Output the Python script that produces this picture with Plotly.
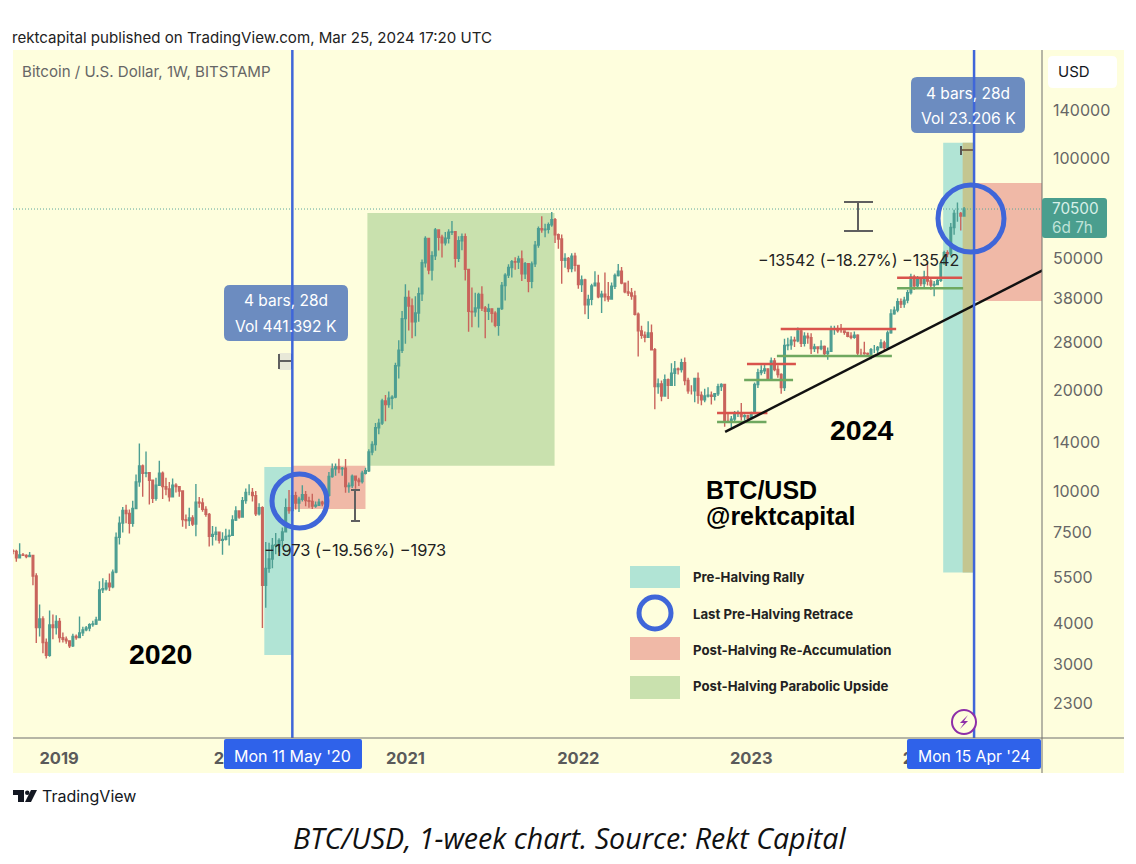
import math
import pandas as pd
import plotly.graph_objects as go

# weekly candles, Bitstamp BTC/USD, first bar Mon 1 Oct 2018
first_open = 6600
closes = [
    6580, 6290, 6420, 6400, 6350, 6400, 5550, 3880, 4120, 3500, 3200, 3950, 3880, 4050,
    # 2019
    3620, 3580, 3540, 3420, 3650, 3620, 3740, 3820, 3870, 3960, 3980, 4090,
    5040, 5080, 5280, 5150, 5700, 7250, 8000, 8730, 8550, 7990, 8850, 10650, 11900,
    11300, 11350, 10770, 9500, 10400, 11300, 10300, 10140, 9600, 10400, 10300, 10000, 8200, 8150,
    8300, 7950, 9250, 9200, 8800, 8500, 7300, 7400, 7510, 7100, 7150, 7300, 7350,
    # 2020
    8180, 8700, 8350, 9350, 9900, 9900, 9680, 8530, 8900, 5200, 5850, 6240, 6850,
    6890, 7100, 7530, 8900, 8730, 9680, 9200, 9440, 9750, 9350, 9300, 9000, 9060,
    9250, 9150, 9700, 11050, 11650, 11800, 11650, 11700, 10300, 10380, 11080, 10780, 10680,
    11300, 11500, 13100, 13800, 15500, 16000, 18650, 18200, 19000, 19150, 23800, 26500, 33000,
    # 2021
    38200, 36000, 32300, 34300, 39200, 48600, 57500, 46200, 51000, 61000, 58000, 55800, 57600,
    60000, 60200, 50100, 56600, 58200, 46400, 34700, 34600, 35500, 39000, 35500, 34700, 35300,
    34250, 31500, 35400, 41500, 44600, 47000, 48900, 48800, 49900, 45000, 48300, 42700, 48200,
    54900, 61500, 61000, 61300, 63200, 65500, 59000, 57300, 49400, 50100, 46700, 50800, 47700,
    # 2022
    41800, 43100, 36300, 37700, 41400, 42200, 38400, 39100, 38400, 37800, 41300, 44500, 45800,
    42200, 39700, 39400, 38600, 34000, 30300, 29400, 29000, 29900, 26600, 20600, 21000, 19300,
    21600, 20800, 22600, 23300, 23200, 24300, 21500, 20000, 20000, 21800, 19400, 18800, 19300,
    19400, 19250, 19600, 20600, 20900, 16300, 16300, 16450, 17100, 17100, 16750, 16850, 16550,
    # 2023
    17100, 20900, 22700, 23000, 23300, 21800, 24600, 23200, 22400, 20450, 27400, 27500, 28400,
    28300, 30300, 27800, 29200, 28900, 26800, 27100, 26800, 27200, 25900, 26300, 30500, 30500,
    30300, 30300, 30000, 29200, 29000, 29400, 26000, 26000, 25900, 25800, 26600, 26600, 27000,
    27900, 27000, 29900, 34100, 35000, 37100, 36500, 37500, 39500, 44000, 41400, 43700, 42100,
    # 2024
    44000, 42800, 41600, 41800, 43000, 48300, 52100, 51700, 62000, 68400, 68400, 67200, 70500,
]
highs = [
    6680, 6650, 6960, 6500, 6450, 6550, 6420, 5650, 4550, 4200, 3600, 4370, 4250, 4230,
    4150, 3750, 3650, 3540, 3720, 3700, 4190, 3900, 3920, 4000, 4070, 4180,
    5350, 5460, 5400, 5640, 5800, 7500, 8380, 8950, 9090, 8800, 9350, 11200, 13880,
    12000, 13150, 11100, 10650, 10950, 12320, 11450, 10950, 10630, 10900, 10550, 10350, 10050, 8500,
    8900, 8450, 10500, 9590, 9500, 9000, 8580, 7850, 7800, 7550, 7510, 7700, 7650,
    8450, 9000, 8750, 9590, 10170, 10480, 10200, 9990, 9190, 9000, 7020, 6980, 7220,
    7470, 7200, 7760, 9490, 10070, 9970, 9950, 9600, 10400, 10000, 9600, 9800, 9300,
    9480, 9350, 9800, 11400, 12100, 12100, 12500, 11800, 12480, 10600, 11200, 11000, 10950,
    11500, 11750, 13350, 14100, 16000, 16500, 18950, 19450, 19900, 19400, 24300, 28400, 34800,
    41900, 40100, 37900, 38500, 40900, 49700, 58400, 57500, 52600, 61800, 61000, 59000, 60100,
    61300, 64900, 60500, 58400, 59500, 59500, 46600, 40900, 39500, 39500, 41300, 36000, 36600,
    35100, 34700, 35500, 42500, 45200, 48100, 49500, 50500, 51000, 52900, 48800, 48400, 49000,
    56500, 62500, 67000, 63700, 64200, 69000, 66300, 59500, 59100, 51900, 50600, 51900, 52100,
    47500, 44500, 43500, 38900, 42000, 45800, 44700, 40000, 45400, 42500, 42400, 45100, 48200,
    47200, 41600, 42900, 40800, 40000, 34400, 31400, 30200, 32400, 31700, 26900, 21800, 21500,
    22400, 21800, 24200, 24600, 23500, 25000, 25200, 21900, 20800, 21900, 22700, 19900, 20300,
    20500, 19900, 19700, 21000, 21100, 21000, 17200, 16800, 17400, 17450, 18400, 17000, 16950,
    17300, 21200, 23300, 23900, 24200, 23400, 25200, 25100, 23900, 22600, 28700, 28900, 29200,
    29100, 31000, 30500, 30000, 29900, 29800, 27700, 27200, 28400, 27400, 27000, 31400, 31400,
    31500, 31800, 30400, 30000, 30000, 30200, 29600, 26800, 28100, 26100, 26900, 27500, 27300,
    28600, 28300, 30400, 35200, 35900, 38000, 37900, 38400, 40200, 45000, 44700, 44300, 43800,
    46000, 49000, 43600, 42800, 43800, 48600, 52800, 53000, 64000, 70200, 73800, 69000, 71500,
]
lows = [
    6450, 6120, 6350, 6370, 6270, 6320, 5200, 3490, 3650, 3250, 3130, 3170, 3580, 3700,
    3500, 3500, 3470, 3370, 3390, 3570, 3650, 3660, 3780, 3780, 3900, 3950,
    4100, 4930, 5020, 5000, 5100, 5650, 6900, 7500, 8000, 7450, 7800, 8900, 10300,
    9600, 11000, 9100, 9200, 9350, 10900, 9450, 9700, 9300, 9560, 9900, 9600, 7800, 7700,
    7850, 7850, 7300, 8900, 8650, 8360, 6800, 6850, 7100, 6950, 6430, 7100, 6850,
    7350, 8120, 8250, 8550, 9150, 9700, 9300, 8400, 8430, 3870, 4450, 5670, 5850,
    6450, 6540, 6770, 7630, 8540, 8100, 8800, 8640, 9300, 9000, 8900, 8830, 8900,
    9050, 9000, 9050, 9600, 10950, 11100, 11300, 11100, 9880, 9880, 10200, 10150, 10350,
    10530, 11200, 11400, 12800, 13200, 14800, 15800, 16200, 17800, 17600, 19000, 21800, 26000,
    27700, 30400, 28800, 29200, 32300, 37300, 47000, 44900, 43000, 49500, 52900, 50400, 54800,
    55500, 58900, 47000, 48800, 53000, 43000, 30100, 31100, 33400, 31000, 34800, 28800, 32700,
    32100, 31100, 29300, 35000, 37400, 43700, 43900, 46300, 46500, 42800, 43400, 39600, 40700,
    47200, 53900, 59800, 58000, 59500, 62300, 55700, 53500, 42000, 46900, 45500, 45500, 45700,
    40600, 39700, 34000, 32900, 36200, 41700, 38000, 34300, 37200, 37100, 37600, 40500, 44200,
    41900, 39300, 38600, 37600, 33700, 25400, 28700, 28000, 29300, 26500, 17600, 19600, 18600,
    19300, 18900, 20700, 20700, 22400, 22700, 20800, 19600, 19500, 18500, 18300, 18100, 18500,
    19100, 18200, 18700, 19300, 20000, 15600, 16000, 15500, 16000, 16700, 16300, 16300, 16350,
    16500, 17100, 20400, 22300, 22500, 21400, 21500, 22900, 21900, 19600, 20000, 26500, 26600,
    27100, 28000, 27100, 27200, 27700, 25800, 26200, 25900, 26500, 25400, 24800, 26300, 29500,
    29900, 29900, 29500, 29000, 28600, 28700, 25300, 25400, 25700, 25400, 24900, 26000, 26000,
    27200, 26500, 26800, 29700, 33900, 34500, 35500, 35600, 36700, 39000, 40200, 40500, 41300,
    40750, 41500, 40300, 38500, 41800, 42500, 47900, 50500, 50900, 59000, 64600, 60700, 66800,
]
opens = [first_open] + closes[:-1]
weeks = pd.date_range("2018-10-01", periods=len(closes), freq="W-MON")

price_ticks = [140000, 100000, 50000, 38000, 28000, 20000, 14000, 10000, 7500, 5500, 4000, 3000, 2300]
year_ticks = ["2019-01-06", "2020-01-12", "2021-01-04", "2022-01-03", "2023-01-02", "2024-01-01"]
year_labels = ["2019", "2020", "2021", "2022", "2023", "2024"]

halvings = ["2020-05-11", "2024-04-15"]
last_price = 70500

# shaded zones: start, end, low, high
rally_2020 = ["2020-03-13", "2020-05-11", 3210, 11800]
reacc_2020 = ["2020-05-11", "2020-10-12", 8830, 11900]
parabolic_2021 = ["2020-10-16", "2021-11-14", 11900, 68600]
rally_2024 = ["2024-02-10", "2024-04-15", 5680, 111500]
overlap_2024 = ["2024-03-22", "2024-04-15", 5680, 111500]
reacc_2024 = ["2024-04-15", "2024-09-06", 37300, 84400]

# drawn levels: start, end, price
red_levels = [["2022-10-22", "2023-02-05", 17170], ["2022-12-24", "2023-04-06", 24100],
              ["2023-03-05", "2023-11-03", 30720], ["2023-11-05", "2024-03-21", 43780]]
green_levels = [["2022-10-22", "2023-02-03", 16120], ["2022-12-18", "2023-03-31", 21580],
                ["2023-02-25", "2023-10-25", 25470], ["2023-11-05", "2024-03-23", 40700]]
trend_dates = ["2022-11-08", "2024-09-06"]
trend_prices = [15050, 46100]

BG = "#fefedd"
TEAL = "#b1e4d5"
RED = "#f0b9a7"
GREEN = "#c9e1ae"
BLUE = "#3f66d9"
GREY = "#5f5f5f"

# the page has an 8px body margin, so the figure is 16px smaller than the window
W, H = 1120, 848
L, R, T, B = 13, 1042, 50, 738


def px(x):
    return (x - L) / (R - L)


def py(y):
    return (B - y) / (B - T)


def zone(z, color):
    return dict(type="rect", layer="below", x0=z[0], x1=z[1], y0=z[2], y1=z[3],
                fillcolor=color, line_width=0)


def box(x0, y0, x1, y1, color, layer="above", line=0, line_color=None):
    return dict(type="rect", layer=layer, xref="paper", yref="paper", x0=px(x0), x1=px(x1),
                y0=py(y1), y1=py(y0), fillcolor=color, line=dict(width=line, color=line_color))


def seg(x0, y0, x1, y1, color, width=2):
    return dict(type="line", xref="paper", yref="paper", x0=px(x0), x1=px(x1),
                y0=py(y0), y1=py(y1), line=dict(color=color, width=width))


def ring(x0, y0, x1, y1, color=BLUE, width=5, fill="rgba(0,0,0,0)"):
    return dict(type="circle", xref="paper", yref="paper", x0=px(x0), x1=px(x1),
                y0=py(y1), y1=py(y0), fillcolor=fill, line=dict(color=color, width=width))


def poly(points, color):
    d = "M " + " L ".join(f"{px(a):.5f},{py(b):.5f}" for a, b in points) + " Z"
    return dict(type="path", xref="paper", yref="paper", path=d, fillcolor=color, line_width=0)


def rounded(x0, y0, x1, y1, r, color, border=None):
    d = (f"M {px(x0 + r):.5f},{py(y0):.5f} L {px(x1 - r):.5f},{py(y0):.5f} "
         f"Q {px(x1):.5f},{py(y0):.5f} {px(x1):.5f},{py(y0 + r):.5f} "
         f"L {px(x1):.5f},{py(y1 - r):.5f} Q {px(x1):.5f},{py(y1):.5f} {px(x1 - r):.5f},{py(y1):.5f} "
         f"L {px(x0 + r):.5f},{py(y1):.5f} Q {px(x0):.5f},{py(y1):.5f} {px(x0):.5f},{py(y1 - r):.5f} "
         f"L {px(x0):.5f},{py(y0 + r):.5f} Q {px(x0):.5f},{py(y0):.5f} {px(x0 + r):.5f},{py(y0):.5f} Z")
    return dict(type="path", xref="paper", yref="paper", path=d, fillcolor=color,
                line=dict(width=0 if border is None else 1, color=border))


def label(x, y, text, size=14, color="#222222", anchor="left", family="Inter"):
    # annotations sit about 2px right of their anchor when left aligned
    if anchor == "left":
        x -= 2
    return dict(xref="paper", yref="paper", x=px(x), y=py(y), text=text, showarrow=False, borderpad=0,
                xanchor=anchor, yanchor="middle", font=dict(size=size, color=color, family=family))


fig = go.Figure(go.Candlestick(
    x=weeks, open=opens, high=highs, low=lows, close=closes,
    increasing=dict(line=dict(color="#4d9e92", width=1.4), fillcolor="#4d9e92"),
    decreasing=dict(line=dict(color="#c9645c", width=1.4), fillcolor="#c9645c"),
    whiskerwidth=0, hoverinfo="skip"))

shapes = [
    # chart panel behind everything
    box(13, 50, 1124, 773, BG, layer="below"),
    zone(rally_2020, TEAL), zone(reacc_2020, RED), zone(parabolic_2021, GREEN),
    zone(rally_2024, TEAL), zone(overlap_2024, "#c4c690"), zone(reacc_2024, RED),
    dict(type="line", x0=weeks[0], x1="2024-09-06", y0=last_price, y1=last_price,
         line=dict(color="#5aa79b", width=1, dash="1px,2px")),
]
for start, end, price in red_levels:
    shapes.append(dict(type="line", x0=start, x1=end, y0=price, y1=price,
                       line=dict(color="#d9534c", width=2.5)))
for start, end, price in green_levels:
    shapes.append(dict(type="line", x0=start, x1=end, y0=price, y1=price,
                       line=dict(color="#6fa85f", width=2.5)))
shapes.append(dict(type="line", x0=trend_dates[0], x1=trend_dates[1], y0=trend_prices[0], y1=trend_prices[1],
                   line=dict(color="#111111", width=2.5)))

# measuring tool leftovers
shapes += [
    seg(355, 489, 355, 521, GREY), seg(351, 490, 360, 490, GREY), seg(351, 521, 360, 521, GREY),
    seg(858, 202, 858, 231, GREY), seg(844, 202, 873, 202, GREY), seg(844, 231, 873, 231, GREY),
    box(279, 353, 292, 370, "#e8e8d8"),
    seg(279, 361, 292, 361, GREY), seg(279, 354, 279, 369, GREY), seg(292, 354, 292, 369, GREY),
    seg(961, 150, 974, 150, "#7d6a4a"), seg(961, 146, 961, 155, "#555555"),
    rounded(224, 285, 348, 341, 6, "#6c8cc0"),
    rounded(911, 77, 1025, 133, 6, "#6c8cc0"),
]
# halving lines over the tooltips
for day in halvings:
    shapes.append(dict(type="line", x0=day, x1=day, yref="paper", y0=0, y1=1,
                       line=dict(color=BLUE, width=2.5)))
shapes += [
    ring(272, 474, 327, 528), ring(938, 185, 1004, 252),
    # axis panel borders
    seg(13, 738, 1124, 738, "#6f6f6f", 1), seg(1042, 50, 1042, 773, "#6f6f6f", 1),
    # crosshair date boxes
    rounded(224, 739, 362, 769, 2, "#2f62ea"), rounded(907, 739, 1041, 769, 2, "#2f62ea"),
    # last price tag and currency button
    rounded(1042, 198, 1107, 238, 3, "#4a9e8e"),
    rounded(1048, 56, 1117, 88, 5, "#ffffff"),
    # halving icon
    ring(952, 710, 976, 734, "#8e2fa8", 2, "#fefedd"),
    poly([(968, 715), (960, 723), (964, 723), (960, 729), (968, 721), (964, 721)], "#8e2fa8"),
    # legend swatches
    box(630, 566, 680, 588, TEAL), ring(639, 597, 671, 629), box(630, 637, 680, 660, RED),
    box(630, 676, 680, 699, GREEN),
    # TradingView logo
    poly([(13, 790), (24, 790), (24, 802), (18, 802), (18, 795), (13, 795)], "#131722"),
    ring(25, 790.5, 29.5, 795, "#131722", 0, "#131722"),
    poly([(31, 790), (37, 790), (31, 802), (25, 802)], "#131722"),
]

annotations = [
    label(13, 38, "rektcapital published on TradingView.com, Mar 25, 2024 17:20 UTC", 15.1),
    label(23, 72, "Bitcoin / U.S. Dollar, 1W, BITSTAMP", 15.1, "#666666"),
    label(286, 300, "4 bars, 28d", 15.5, "#ffffff", "center"),
    label(286, 326, "Vol 441.392 K", 15.6, "#ffffff", "center"),
    label(968, 93, "4 bars, 28d", 15.5, "#ffffff", "center"),
    label(968, 119, "Vol 23.206 K", 15.6, "#ffffff", "center"),
    label(355, 550, "\u22121973 (\u221219.56%) \u22121973", 16.4, "#222222", "center"),
    label(858, 260, "\u221213542 (\u221218.27%) \u221213542", 16.1, "#222222", "center"),
    label(160, 654, "<b>2020</b>", 28.5, "#000000", "center", "Liberation Sans"),
    label(862, 430, "<b>2024</b>", 28.5, "#000000", "center", "Liberation Sans"),
    label(707, 490, "<b>BTC/USD</b>", 25, "#000000", "left", "Liberation Sans"),
    label(707, 516, "<b>@rektcapital</b>", 25, "#000000", "left", "Liberation Sans"),
    label(694, 577, "<b>Pre-Halving Rally</b>", 13.2),
    label(694, 614, "<b>Last Pre-Halving Retrace</b>", 13.2),
    label(694, 650, "<b>Post-Halving Re-Accumulation</b>", 13.2),
    label(694, 686, "<b>Post-Halving Parabolic Upside</b>", 13.2),
    label(292, 756, "Mon 11 May '20", 16, "#ffffff", "center"),
    label(974, 756, "Mon 15 Apr '24", 15.7, "#ffffff", "center"),
    label(1053, 209, "70500", 15.3, "#d8f0e8"),
    label(1053, 227, "6d 7h", 15.3, "#bfe3d8"),
    label(1059, 71, "USD", 15, "#131722"),
    label(43, 796, "TradingView", 16, "#131722"),
    label(569, 837, "<i>BTC/USD, 1-week chart. Source: Rekt Capital</i>", 28.6, "#111111", "center", "Open Sans"),
]

fig.update_layout(
    width=W, height=H,
    margin=dict(l=L - 8, r=W - (R - 8), t=T - 8, b=H - (B - 8), pad=0),
    paper_bgcolor="#ffffff", plot_bgcolor=BG,
    showlegend=False,
    shapes=shapes, annotations=annotations,
    xaxis=dict(type="date", range=["2018-10-01", "2024-09-05"], rangeslider_visible=False,
               tickmode="array", tickvals=year_ticks, ticktext=year_labels, showgrid=False,
               zeroline=False, showline=False, ticks="", ticklabelstandoff=8,
               tickfont=dict(size=16.5, color="#5a5a5a", family="Inter", weight=700)),
    yaxis=dict(type="log", side="right", range=[math.log10(10 ** 3.2567), 5.3266],
               tickmode="array", tickvals=price_ticks, ticktext=[str(p) for p in price_ticks],
               showgrid=False, zeroline=False, showline=False, ticks="", ticklabelstandoff=10,
               tickfont=dict(size=16, color="#666666", family="Inter")),
)

fig.write_html("out.html")
